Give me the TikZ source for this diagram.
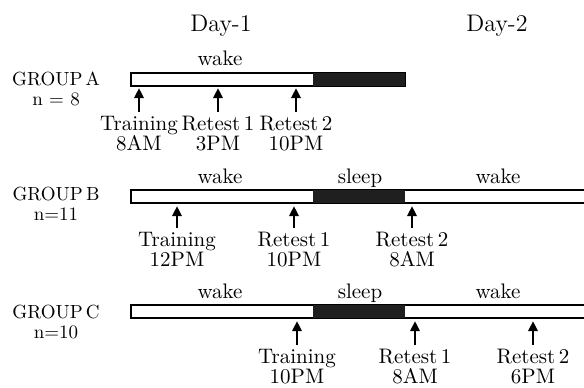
\documentclass[tikz,border=0pt]{standalone}
\usepackage{tikz}
\usetikzlibrary{arrows.meta}

\begin{document}
\begin{tikzpicture}[x=0.5pt, y=-0.5pt,
		bar/.style={draw, line width=0.7pt, fill=white},
		night/.style={fill=black!88},
		day/.style={font=\fontsize{12}{12}\selectfont, anchor=base, inner sep=0pt},
		group/.style={font=\fontsize{9.5}{10}\selectfont, align=center, anchor=north, inner sep=0pt},
		phase/.style={font=\fontsize{10.5}{10.5}\selectfont, anchor=base, inner sep=0pt},
		time/.style={font=\fontsize{10.5}{10}\selectfont, align=center, anchor=north, inner sep=0pt},
		arr/.style={-{Triangle[width=4.5pt,length=5pt]}, line width=1.4pt, shorten <=2pt}]
		\useasboundingbox (0,0) rectangle (584,387);

		\node[day] (d1) at (221,31) {Day-1};
		\node[day] (d2) at (497,31) {Day-2};

		% group A
		\node[group] (ga) at (56,71) {GROUP\,A\\n = 8};
		\draw[bar] (131,73) rectangle (405,86);
		\fill[night] (313,73) rectangle (405,86);
		\coordinate (ba) at (131,88);
		\node[phase] (wa) at (220,65) {wake};
		\node[time] (a1) at (139,116) {Training\\8AM};
		\node[time] (a2) at (218,116) {Retest\,1\\3PM};
		\node[time] (a3) at (296,116) {Retest\,2\\10PM};
		\draw[arr] (a1.north) to (a1.north |- ba);
		\draw[arr] (a2.north) to (a2.north |- ba);
		\draw[arr] (a3.north) to (a3.north |- ba);

		% group B
		\node[group] (gb) at (56,187) {GROUP\,B\\n=11};
		\draw[bar] (131,190) rectangle (585,203);
		\fill[night] (313,190) rectangle (405,203);
		\coordinate (bb) at (131,206);
		\node[phase] (wb1) at (220,183) {wake};
		\node[phase] (sb) at (360,183) {sleep};
		\node[phase] (wb2) at (498,183) {wake};
		\node[time] (b1) at (177,232) {Training\\12PM};
		\node[time] (b2) at (294,232) {Retest\,1\\10PM};
		\node[time] (b3) at (412,232) {Retest\,2\\8AM};
		\draw[arr] (b1.north) to (b1.north |- bb);
		\draw[arr] (b2.north) to (b2.north |- bb);
		\draw[arr] (b3.north) to (b3.north |- bb);

		% group C
		\node[group] (gc) at (56,305) {GROUP\,C\\n=10};
		\draw[bar] (131,305) rectangle (585,318);
		\fill[night] (313,305) rectangle (405,318);
		\coordinate (bc) at (131,321);
		\node[phase] (wc1) at (220,298) {wake};
		\node[phase] (sc) at (360,298) {sleep};
		\node[phase] (wc2) at (498,298) {wake};
		\node[time] (c1) at (297,349) {Training\\10PM};
		\node[time] (c2) at (415,349) {Retest\,1\\8AM};
		\node[time] (c3) at (533,349) {Retest\,2\\6PM};
		\draw[arr] (c1.north) to (c1.north |- bc);
		\draw[arr] (c2.north) to (c2.north |- bc);
		\draw[arr] (c3.north) to (c3.north |- bc);

	\end{tikzpicture}
\end{document}
